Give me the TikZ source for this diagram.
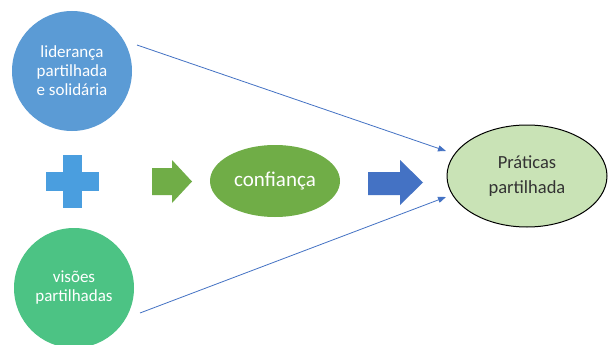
\documentclass[tikz,border=0pt]{standalone}
\usepackage{fontspec}
\setmainfont{Carlito}
\usetikzlibrary{shapes.geometric,arrows.meta}
\definecolor{cblue}{HTML}{5B9BD5}
\definecolor{cplus}{HTML}{4A9EDF}
\definecolor{cgreen}{HTML}{70AD47}
\definecolor{cteal}{HTML}{4CC384}
\definecolor{cdblue}{HTML}{4472C4}
\definecolor{clight}{HTML}{C9E3B6}
\tikzset{
  circ/.style={circle, minimum size=120pt, inner sep=0pt, text=white, align=center, font=\fontsize{17}{19}\selectfont},
  conn/.style={draw=cdblue, line width=0.8pt, -{Triangle[length=8pt,width=6pt]}}
}
\begin{document}
\begin{tikzpicture}[x=1pt,y=-1pt]
\useasboundingbox[fill=white] (0,0) rectangle (608,345);
\node[circ, fill=cblue] (lid) at (72,71) {liderança\\partilhada\\e solidária};
\node[circ, fill=cteal] (vis) at (74,288) {visões\\partilhadas};
\node[draw=none, fill=cplus, minimum width=53pt, minimum height=19pt, inner sep=0pt] (plusH) at (72,181) {};
\node[draw=none, fill=cplus, minimum width=19pt, minimum height=53pt, inner sep=0pt] (plusV) at (72,181) {};
\fill[cgreen] (152,168) -- (172,168) -- (172,160) -- (192,181.5) -- (172,203) -- (172,195) -- (152,195) -- cycle;
\node[ellipse, fill=cgreen, minimum width=130pt, minimum height=72pt, inner sep=0pt, text=white, font=\fontsize{21}{23}\selectfont] (conf) at (275,181) {confiança};
\fill[cdblue] (368,172) -- (400,172) -- (400,160) -- (423,182.5) -- (400,205) -- (400,195) -- (368,195) -- cycle;
\node[ellipse, draw=black, line width=1pt, fill=clight, minimum width=160pt, minimum height=102pt, inner sep=0pt, align=center, text=black!80, font=\fontsize{18.5}{25}\selectfont] (prat) at (527,176) {Práticas\\partilhada};
\coordinate (s1) at (137,45);
\coordinate (e1) at (446,151);
\coordinate (s2) at (140,313);
\coordinate (e2) at (446,197);
\draw[conn] (s1) -- (e1);
\draw[conn] (s2) -- (e2);
\end{tikzpicture}
\end{document}
